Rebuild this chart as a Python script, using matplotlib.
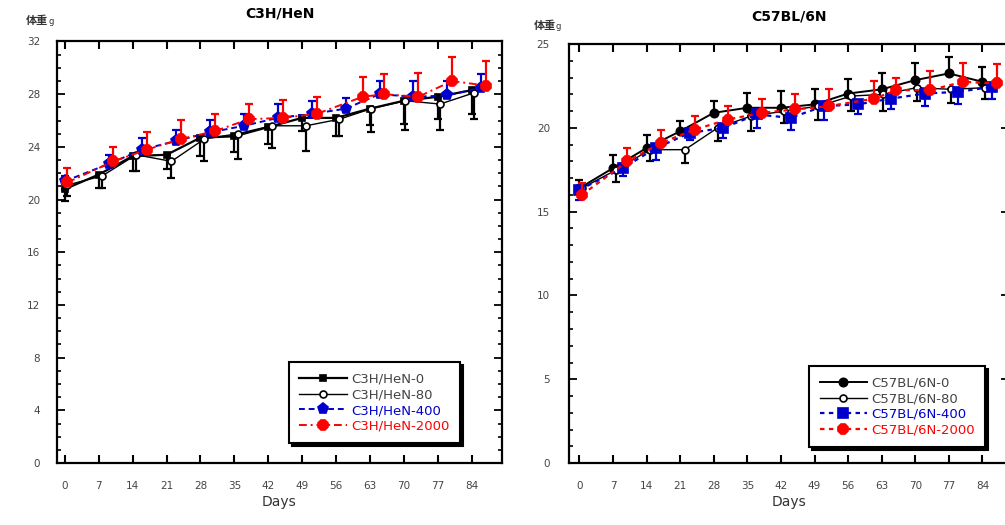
import numpy as np
import matplotlib
matplotlib.use("Agg")
import matplotlib.pyplot as plt

plt.rcParams['font.family'] = ['DejaVu Sans', 'Noto Sans CJK JP']

# measurement days for each dose group
days_0 = [0, 7, 14, 21, 28, 35, 42, 49, 56, 63, 70, 77, 84]
days_80 = [0.5, 7.7, 14.7, 22, 28.8, 35.7, 42.7, 49.8, 56.7, 63.3, 70.3, 77.5, 84.5]
days_400 = [0, 9, 16, 23, 30, 37, 44, 51, 58, 65, 72, 79, 86]
days_2000 = [0.5, 10, 17, 24, 31, 38, 45, 52, 61.5, 66, 73, 80, 87]
tick_days = [0, 7, 14, 21, 28, 35, 42, 49, 56, 63, 70, 77, 84]

# C3H/HeN body weight (g) and sd
c3h_0 = [20.8, 21.9, 23.3, 23.4, 24.7, 24.8, 25.5, 26.2, 26.2, 26.9, 27.5, 27.8, 28.3]
c3h_0_sd = [0.9, 1.05, 1.1, 1.05, 1.4, 1.2, 1.25, 1.0, 1.4, 1.25, 1.8, 1.7, 1.8]
c3h_80 = [21.1, 21.8, 23.4, 22.9, 24.6, 25.0, 25.6, 25.6, 26.1, 26.9, 27.5, 27.25, 28.1]
c3h_80_sd = [0.8, 0.95, 1.2, 1.3, 1.7, 1.9, 1.7, 1.9, 1.3, 1.8, 2.2, 1.95, 2.0]
c3h_400 = [21.4, 22.7, 23.8, 24.45, 25.1, 25.6, 26.2, 26.5, 26.9, 28.0, 27.8, 27.9, 28.5]
c3h_400_sd = [0.4, 0.7, 0.85, 0.85, 0.95, 0.9, 1.05, 1.0, 0.8, 1.0, 1.2, 1.1, 1.0]
c3h_2000 = [21.3, 22.9, 23.8, 24.6, 25.2, 26.1, 26.2, 26.5, 27.8, 28.0, 27.8, 29.0, 28.65]
c3h_2000_sd = [1.1, 1.1, 1.3, 1.45, 1.3, 1.15, 1.35, 1.3, 1.5, 1.5, 1.8, 1.8, 1.85]

# C57BL/6N body weight (g) and sd
c57_0 = [16.4, 17.6, 18.8, 19.8, 20.9, 21.2, 21.2, 21.4, 22.05, 22.3, 22.85, 23.25, 22.75]
c57_0_sd = [0.5, 0.8, 0.8, 0.6, 0.7, 0.9, 1.0, 0.9, 0.85, 0.95, 1.0, 1.0, 0.9]
c57_80 = [16.4, 17.5, 18.7, 18.7, 20.0, 20.7, 21.0, 21.3, 21.9, 22.0, 22.4, 22.3, 22.4]
c57_80_sd = [0.5, 0.7, 0.7, 0.8, 0.8, 0.9, 0.7, 0.8, 0.9, 1.0, 0.8, 0.8, 0.7]
c57_400 = [16.3, 17.6, 18.8, 19.7, 20.0, 20.8, 20.6, 21.3, 21.4, 21.75, 22.05, 22.15, 22.45]
c57_400_sd = [0.6, 0.5, 0.7, 0.4, 0.6, 0.8, 0.7, 0.8, 0.6, 0.65, 0.75, 0.75, 0.75]
c57_2000 = [16.0, 18.0, 19.1, 19.9, 20.5, 20.9, 21.1, 21.3, 21.75, 22.25, 22.25, 22.75, 22.65]
c57_2000_sd = [0.7, 0.8, 0.8, 0.8, 0.8, 0.8, 0.9, 1.0, 1.05, 0.75, 1.15, 1.15, 1.15]

fig = plt.figure(figsize=(10.05, 5.25), dpi=100)
ax1 = fig.add_axes([0.0567, 0.118, 0.4428, 0.803])
ax2 = fig.add_axes([0.5665, 0.118, 0.4378, 0.798])

blue = '#0000cc'
red = '#ff0000'
grey = '#444444'


def draw(ax, x, y, sd, down, color, ls, lw, marker, ms, mfc, label, z):
    sd = np.array(sd)
    zero = np.zeros_like(sd)
    err = [sd, zero] if down else [zero, sd]
    ax.errorbar(x, y, yerr=err, fmt='none', ecolor=color, elinewidth=1.6,
                capsize=3, capthick=1.6, zorder=z)
    ax.plot(x, y, color=color, ls=ls, lw=lw, marker=marker, ms=ms,
            mfc=mfc, mec=color, mew=1.2, label=label, zorder=z + 0.5)


# left panel
draw(ax1, days_0, c3h_0, c3h_0_sd, True, 'black', '-', 1.6, 's', 5, 'black', 'C3H/HeN-0', 3)
draw(ax1, days_80, c3h_80, c3h_80_sd, True, 'black', '-', 1.0, 'o', 5, 'white', 'C3H/HeN-80', 4)
draw(ax1, days_400, c3h_400, c3h_400_sd, False, blue, (0, (3, 2)), 1.4, 'p', 8, blue, 'C3H/HeN-400', 5)
draw(ax1, days_2000, c3h_2000, c3h_2000_sd, False, red, (0, (4, 2, 1, 2)), 1.4, '8', 8, red, 'C3H/HeN-2000', 6)

# right panel
draw(ax2, days_0, c57_0, c57_0_sd, False, 'black', '-', 1.4, 'o', 6, 'black', 'C57BL/6N-0', 3)
draw(ax2, days_80, c57_80, c57_80_sd, True, 'black', '-', 1.0, 'o', 5, 'white', 'C57BL/6N-80', 4)
draw(ax2, days_400, c57_400, c57_400_sd, True, blue, (0, (2, 2)), 1.6, 's', 7, blue, 'C57BL/6N-400', 5)
draw(ax2, days_2000, c57_2000, c57_2000_sd, False, red, (0, (2, 2)), 1.6, '8', 8, red, 'C57BL/6N-2000', 6)

panels = [
    (ax1, 'C3H/HeN', (-1.65, 90.3), (0, 32), np.arange(0, 33, 4), (0.521, 0.047), 12),
    (ax2, 'C57BL/6N', (-2.1, 89.6), (0, 25), np.arange(0, 26, 5), (0.545, 0.038), 14),
]
for ax, title, xl, yl, yt, lpos, ypad in panels:
    ax.set_xlim(*xl)
    ax.set_ylim(*yl)
    ax.set_xticks(tick_days)
    ax.set_yticks(yt)
    ax.set_yticks(np.arange(yl[0], yl[1] + 1, 1), minor=True)
    ax.tick_params(axis='x', which='both', direction='in', top=True, length=6,
                   width=1.5, pad=13, labelsize=7.5, labelcolor=grey)
    ax.tick_params(axis='y', which='major', direction='in', right=True, length=6,
                   width=1.3, pad=ypad, labelsize=7.5, labelcolor=grey)
    ax.tick_params(axis='y', which='minor', direction='in', right=True, length=3, width=1.2)
    for s in ax.spines.values():
        s.set_linewidth(1.6)
    ax.set_title(title, fontsize=10, fontweight='bold', pad=17)
    ax.set_xlabel('Days', fontsize=10, color='#333333', labelpad=3)
    leg = ax.legend(loc='lower left', bbox_to_anchor=lpos, fontsize=9.5,
                    frameon=True, fancybox=False, edgecolor='black',
                    shadow={'color': 'black', 'alpha': 1}, framealpha=1,
                    handlelength=3.6, handletextpad=0.3, borderpad=0.8,
                    labelspacing=0.2, borderaxespad=0)
    leg.get_frame().set_linewidth(1.5)
    for t, c in zip(leg.get_texts(), [grey, grey, blue, red]):
        t.set_color(c)

fig.text(0.026, 0.955, '体重', fontsize=8, fontweight='bold', color='#333333',
         va='baseline', family='Noto Sans CJK JP')
fig.text(0.048, 0.955, 'g', fontsize=6, color='#333333', va='baseline')
fig.text(0.531, 0.945, '体重', fontsize=8, fontweight='bold', color='#333333',
         va='baseline', family='Noto Sans CJK JP')
fig.text(0.553, 0.945, 'g', fontsize=6, color='#333333', va='baseline')

fig.savefig('out.png', dpi=100)
